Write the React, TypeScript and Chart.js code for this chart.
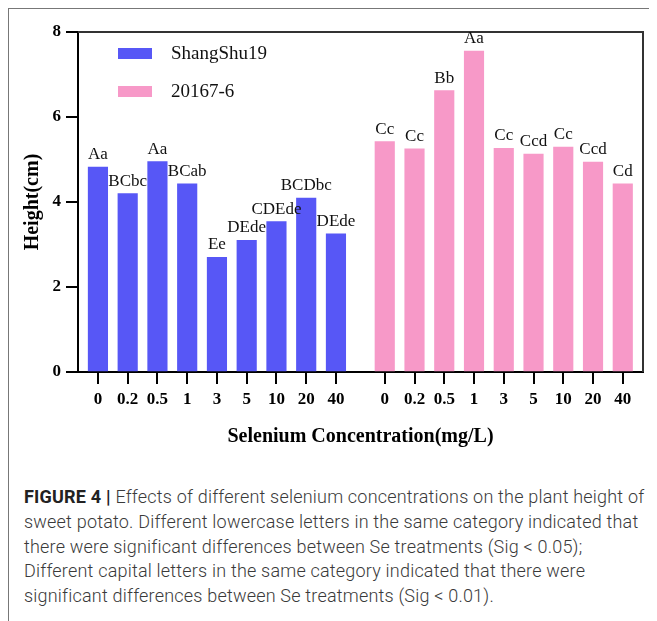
import React, { useEffect, useRef } from "react";
import { Chart, registerables } from "chart.js";

Chart.register(...registerables);

// ---- data ----
const concentrations = ["0", "0.2", "0.5", "1", "3", "5", "10", "20", "40"];
const seriesNames = ["ShangShu19", "20167-6"];
const shangShu19 = [4.82, 4.2, 4.95, 4.43, 2.7, 3.1, 3.54, 4.09, 3.25];
const line20167 = [5.42, 5.25, 6.62, 7.55, 5.26, 5.13, 5.29, 4.94, 4.43];
const shangShuLetters = ["Aa", "BCbc", "Aa", "BCab", "Ee", "DEde", "CDEde", "BCDbc", "DEde"];
const letters20167 = ["Cc", "Cc", "Bb", "Aa", "Cc", "Ccd", "Cc", "Ccd", "Cd"];
const yTicks = [0, 2, 4, 6, 8];
const captionLines = [
  "Effects of different selenium concentrations on the plant height of",
  "sweet potato. Different lowercase letters in the same category indicated that",
  "there were significant differences between Se treatments (Sig < 0.05);",
  "Different capital letters in the same category indicated that there were",
  "significant differences between Se treatments (Sig < 0.01).",
];

// ---- layout constants ----
const SECOND_GROUP_START = 9.64; // x position of first bar of 2nd group (1st group at 0..8)
const COLORS = ["#5757F6", "#F799C8"];
const SERIF = '"Liberation Serif", "Times New Roman", serif';

const positionsA = concentrations.map((_, i) => i);
const positionsB = concentrations.map((_, i) => i + SECOND_GROUP_START);
const allPositions = [...positionsA, ...positionsB];
const allTickLabels = [...concentrations, ...concentrations];

export default function App() {
  const ref = useRef<HTMLCanvasElement | null>(null);

  useEffect(() => {
    if (!ref.current) return;
    const letterSets = [shangShuLetters, letters20167];
    const overlay = {
      id: "overlay",
      afterDatasetsDraw(chart: any) {
        const ctx = chart.ctx;
        const { left, right, top, bottom } = chart.chartArea;
        ctx.save();
        // frame top/right
        ctx.strokeStyle = "#333";
        ctx.lineWidth = 2;
        ctx.beginPath();
        ctx.moveTo(left, top);
        ctx.lineTo(right, top);
        ctx.lineTo(right, bottom);
        ctx.stroke();
        // letters
        ctx.font = `17px ${SERIF}`;
        ctx.fillStyle = "#111";
        ctx.textAlign = "center";
        ctx.textBaseline = "alphabetic";
        letterSets.forEach((labels, di) => {
          chart.getDatasetMeta(di).data.forEach((el: any, i: number) => {
            ctx.fillText(labels[i], el.x, el.y - 8);
          });
        });
        // legend
        ctx.font = `19px ${SERIF}`;
        ctx.textAlign = "left";
        ctx.textBaseline = "middle";
        chart.data.datasets.forEach((ds: any, i: number) => {
          const bx = left + 40;
          const by = top + 16 + i * 38;
          ctx.fillStyle = ds.backgroundColor;
          ctx.fillRect(bx, by, 34, 11);
          ctx.fillStyle = "#111";
          ctx.fillText(ds.label, bx + 53, by + 6);
        });
        ctx.restore();
      },
    };

    const chart = new Chart(ref.current, {
      type: "bar",
      data: {
        datasets: [
          {
            label: seriesNames[0],
            data: shangShu19.map((v, i) => ({ x: positionsA[i], y: v })),
            backgroundColor: COLORS[0],
            barThickness: 19.5,
            grouped: false,
          } as any,
          {
            label: seriesNames[1],
            data: line20167.map((v, i) => ({ x: positionsB[i], y: v })),
            backgroundColor: COLORS[1],
            barThickness: 19.5,
            grouped: false,
          } as any,
        ],
      },
      options: {
        animation: false,
        responsive: false,
        maintainAspectRatio: false,
        layout: { padding: { top: 24, right: 14, left: 0, bottom: 0 } },
        plugins: { legend: { display: false }, tooltip: { enabled: false } },
        scales: {
          x: {
            type: "linear",
            min: -0.67,
            max: 18.32,
            offset: false,
            afterBuildTicks: (scale: any) => {
              scale.ticks = allPositions.map((v) => ({ value: v }));
            },
            afterFit: (scale: any) => {
              scale.height = 86;
            },
            ticks: {
              autoSkip: false,
              maxRotation: 0,
              padding: 5,
              color: "#000",
              font: { family: SERIF, size: 17, weight: "bold" },
              callback: (_v: any, index: number) => allTickLabels[index],
            },
            grid: {
              display: true,
              offset: false,
              drawOnChartArea: false,
              drawTicks: true,
              tickLength: 12,
              color: "#000",
              lineWidth: 2,
            },
            border: { display: true, color: "#000", width: 2 },
            title: {
              display: true,
              text: "Selenium Concentration(mg/L)",
              color: "#000",
              font: { family: SERIF, size: 20, weight: "bold" },
              padding: { top: 0, bottom: 9 },
            },
          } as any,
          y: {
            min: 0,
            max: 8,
            afterBuildTicks: (scale: any) => {
              scale.ticks = yTicks.map((v) => ({ value: v }));
            },
            afterFit: (scale: any) => {
              scale.width = 70;
            },
            ticks: {
              padding: 5,
              color: "#000",
              font: { family: SERIF, size: 17, weight: "bold" },
            },
            grid: {
              display: true,
              drawOnChartArea: false,
              drawTicks: true,
              tickLength: 12,
              color: "#000",
              lineWidth: 2,
            },
            border: { display: true, color: "#000", width: 2 },
            title: {
              display: true,
              text: "Height(cm)",
              color: "#000",
              font: { family: SERIF, size: 20, weight: "bold" },
              padding: { top: 13, bottom: 0 },
            },
          } as any,
        },
      },
      plugins: [overlay],
    });
    return () => chart.destroy();
  }, []);

  return (
    <div style={{ position: "relative", width: 649, height: 613, overflow: "hidden" }}>
      <div
        style={{
          position: "absolute",
          left: 0,
          top: 0,
          width: 649,
          height: 613,
          borderTop: "1.5px solid #777",
          borderLeft: "1.5px solid #777",
          boxSizing: "border-box",
        }}
      />
      <canvas
        ref={ref}
        width={649}
        height={450}
        style={{ position: "absolute", left: 0, top: 0, width: 649, height: 450 }}
      />
      <div
        style={{
          position: "absolute",
          left: 16,
          top: 477,
          fontFamily: 'Roboto, "Liberation Sans", sans-serif',
          fontWeight: 300,
          fontSize: 18,
          letterSpacing: "0.2px",
          lineHeight: "24.75px",
          color: "#3a3a3a",
          whiteSpace: "nowrap",
        }}
      >
        {captionLines.map((line, i) => (
          <div key={i}>
            {i === 0 ? <span style={{ fontWeight: 700, color: "#222" }}>FIGURE 4 | </span> : null}
            {line}
          </div>
        ))}
      </div>
    </div>
  );
}
